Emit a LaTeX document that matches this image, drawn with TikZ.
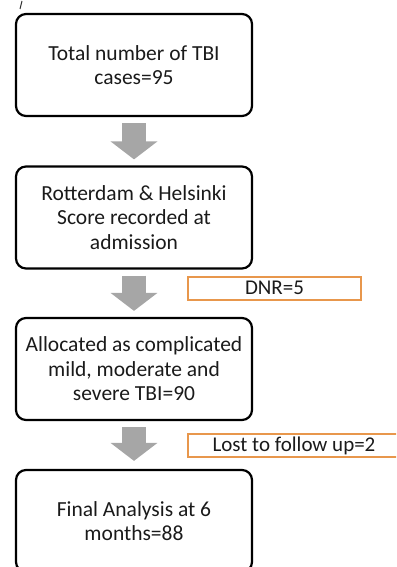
\documentclass[tikz,border=0pt]{standalone}
\usepackage{fontspec}
\setmainfont{Carlito}
\usetikzlibrary{arrows.meta,calc}
\definecolor{boxorange}{HTML}{E8974C}
\definecolor{arrowgray}{HTML}{A6A6A6}
\definecolor{inktext}{HTML}{1A1A1A}
\tikzset{
  mainbox/.style={draw=black, line width=2.2pt, rounded corners=10pt, minimum width=236pt, minimum height=102pt, align=center, text=inktext, font=\fontsize{21.5}{24.5}\selectfont, inner sep=0pt},
  sidebox/.style={draw=boxorange, line width=2pt, minimum height=23pt, align=center, text=inktext, font=\fontsize{21}{22}\selectfont, inner sep=0pt},
  blockarrow/.style={draw=arrowgray, line width=24pt, -{Triangle[width=46pt,length=18pt]}},
}
\begin{document}
\begin{tikzpicture}[x=1pt,y=-1pt]
\useasboundingbox (0,0) rectangle (396,567);
\clip (0,0) rectangle (396,567);
\draw[line width=1pt, black!80] (22,1) .. controls (21.5,5) .. (20,9);
\node[mainbox] (b1) at (134,65) {Total number of TBI\\cases=95};
\node[mainbox] (b2) at (134,217.5) {Rotterdam \& Helsinki\\Score recorded at\\admission};
\node[mainbox] (b3) at (134,369) {Allocated as complicated\\mild, moderate and\\severe TBI=90};
\node[mainbox] (b4) at (134,521) {Final Analysis at 6\\months=88};
\node[sidebox, minimum width=173pt] (dnr) at (274.5,288) {DNR=5};
\node[sidebox, minimum width=212pt] (lost) at (294,445.5) {Lost to follow up=2};
\draw[blockarrow] ($(b1.south)+(0,6)$) -- ($(b2.north)+(0,-6)$);
\draw[blockarrow] ($(b2.south)+(0,6)$) -- ($(b3.north)+(0,-6)$);
\draw[blockarrow] ($(b3.south)+(0,6)$) -- ($(b4.north)+(0,-8)$);
\end{tikzpicture}
\end{document}
